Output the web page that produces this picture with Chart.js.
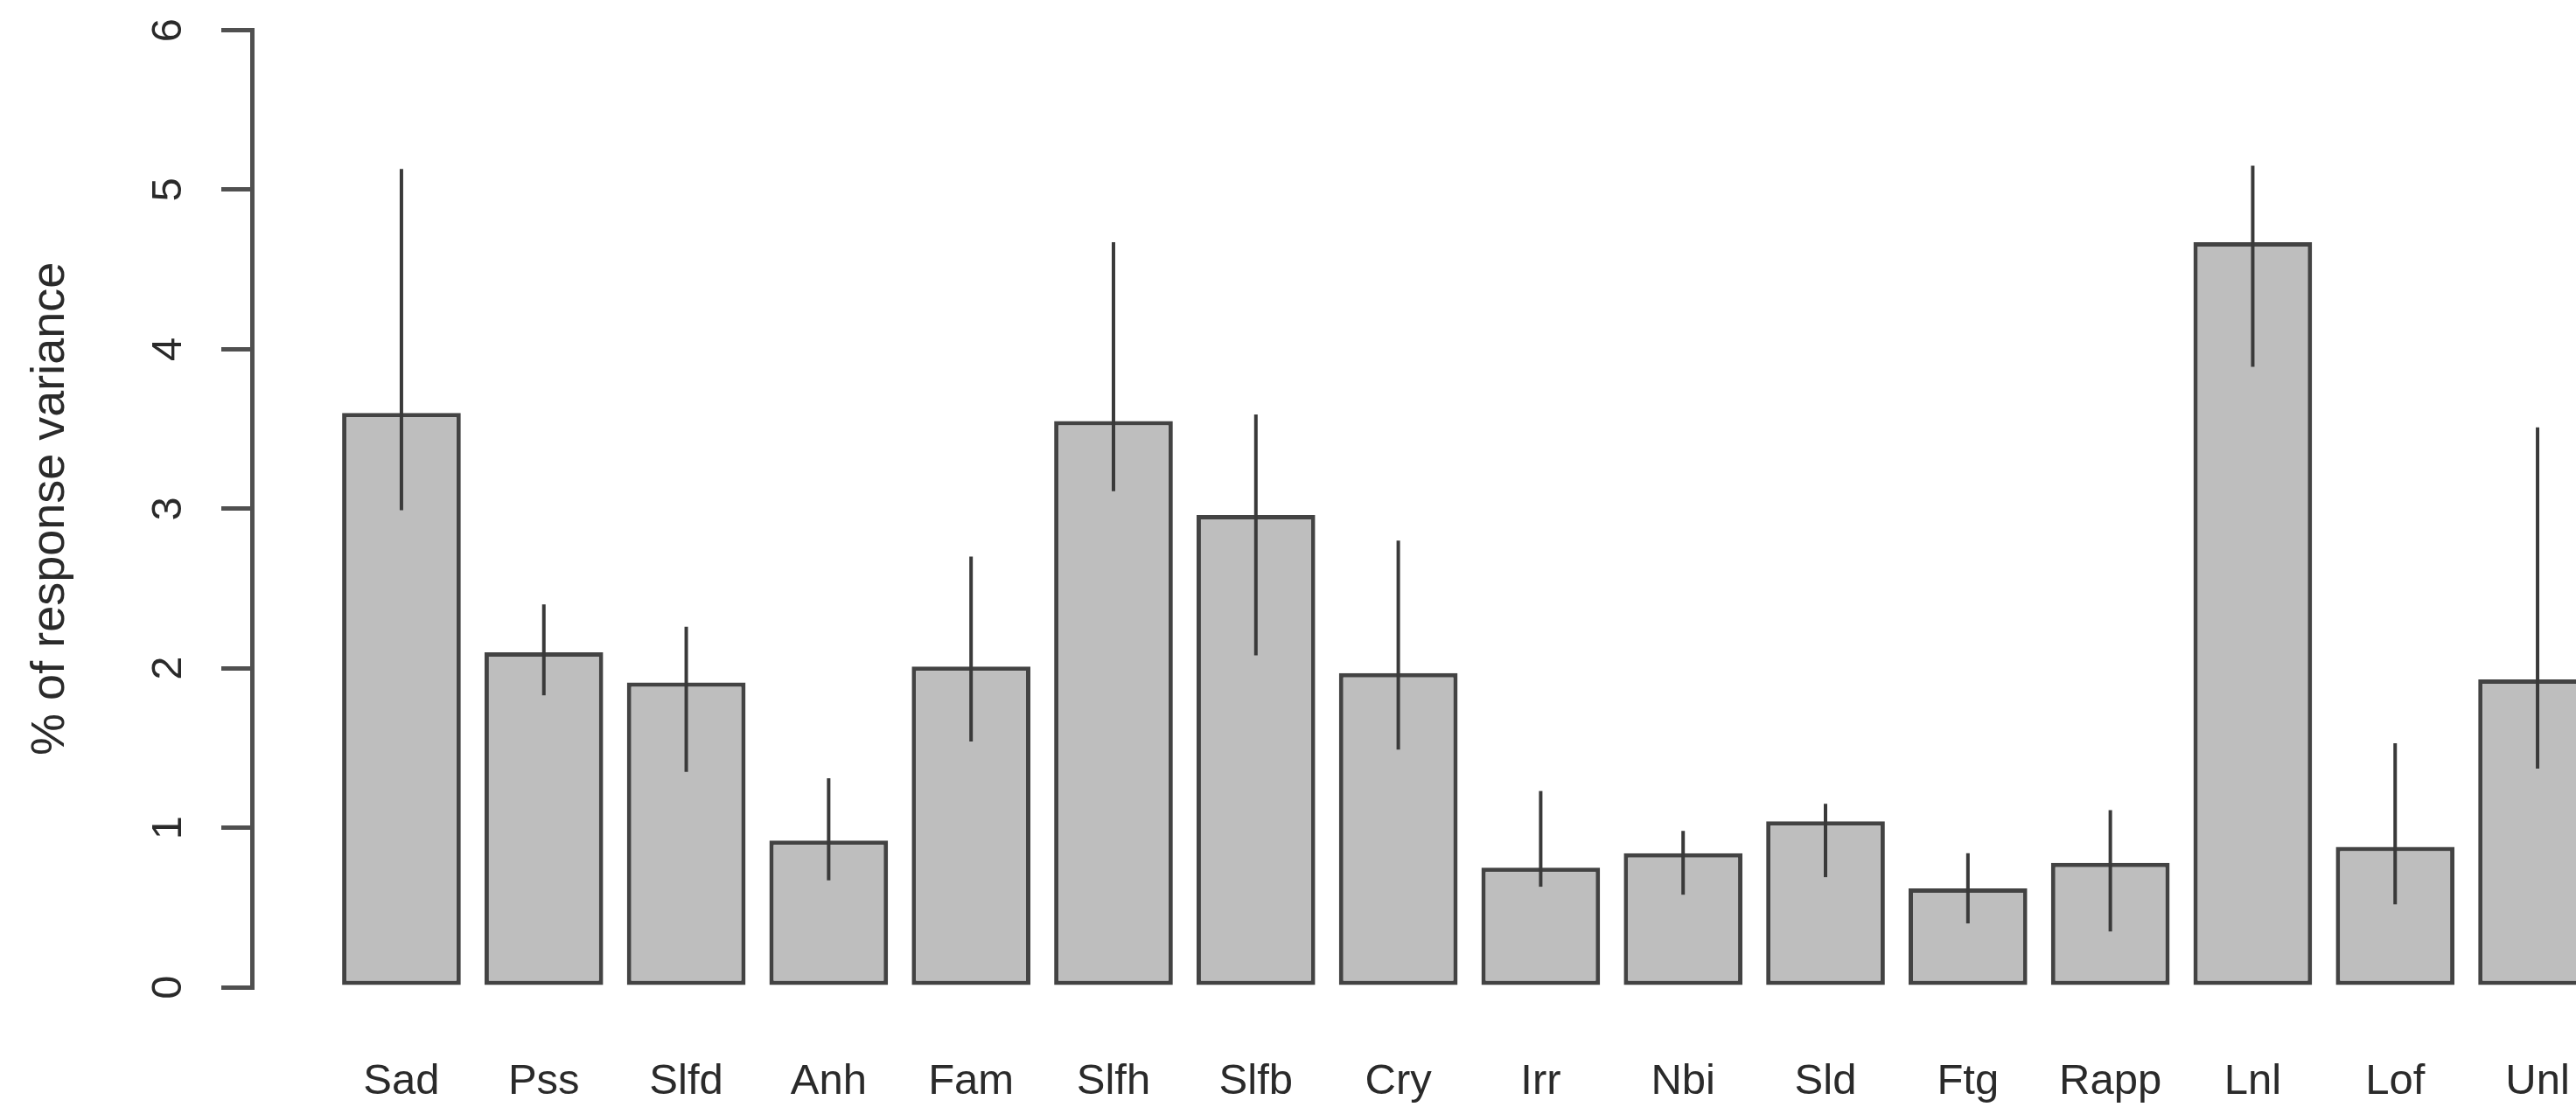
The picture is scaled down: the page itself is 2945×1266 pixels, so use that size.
<!DOCTYPE html>
<html>
<head>
<meta charset="utf-8">
<title>% of response variance</title>
<script src="https://cdn.jsdelivr.net/npm/chart.js@4.4.1/dist/chart.umd.min.js"></script>
<style>
  html, body { margin: 0; padding: 0; background: #ffffff; overflow: hidden; }
  #wrap { width: 3080px; height: 1266px; }
</style>
</head>
<body>
<div id="wrap"><canvas id="chart" width="3080" height="1266"></canvas></div>
<script>
// Item labels along the x axis
const categories = ['Sad', 'Pss', 'Slfd', 'Anh', 'Fam', 'Slfh', 'Slfb', 'Cry',
                    'Irr', 'Nbi', 'Sld', 'Ftg', 'Rapp', 'Lnl', 'Lof', 'Unl'];

// Percentage of response variance per item
const values  = [3.60, 2.10, 1.91, 0.92, 2.01, 3.55, 2.96, 1.97,
                 0.75, 0.84, 1.04, 0.62, 0.78, 4.67, 0.88, 1.93];

// Interval ends drawn as vertical whiskers
const errLow  = [2.99, 1.83, 1.35, 0.67, 1.54, 3.11, 2.08, 1.49,
                 0.63, 0.58, 0.69, 0.40, 0.35, 3.89, 0.52, 1.37];
const errHigh = [5.13, 2.40, 2.26, 1.31, 2.70, 4.67, 3.59, 2.80,
                 1.23, 0.98, 1.15, 0.84, 1.11, 5.15, 1.53, 3.51];

// Y axis tick values
const yTicks = [0, 1, 2, 3, 4, 5, 6];

// barplot-style layout: unit-wide bars separated by a 0.2 gap
const SPACE = 0.2;
const barX = categories.map((_, i) => SPACE + 0.5 + i * (1 + SPACE));
const span = categories.length * (1 + SPACE);
const xPad = 0.04 * (span - SPACE);
const xMin = SPACE - xPad;
const xMax = span + xPad;

const FAMILY = "'Liberation Sans', Arial, sans-serif";
const FONT = { family: FAMILY, size: 49 };
const TITLE_FONT = { family: FAMILY, size: 54 };
const TEXT = '#2a2a2a';
const INK = '#505050';

const whiskers = {
  id: 'whiskers',
  afterDatasetsDraw(chart) {
    const { ctx, scales: { x, y } } = chart;
    ctx.save();
    ctx.strokeStyle = '#3a3a3a';
    ctx.lineWidth = 4;
    ctx.lineCap = 'butt';
    barX.forEach((bx, i) => {
      const px = x.getPixelForValue(bx);
      ctx.beginPath();
      ctx.moveTo(px, y.getPixelForValue(errLow[i]));
      ctx.lineTo(px, y.getPixelForValue(errHigh[i]));
      ctx.stroke();
    });
    ctx.restore();
  }
};

new Chart(document.getElementById('chart'), {
  type: 'bar',
  data: {
    datasets: [{
      data: barX.map((bx, i) => ({ x: bx, y: values[i] })),
      backgroundColor: '#bebebe',
      borderColor: '#434343',
      borderWidth: 5,
      borderSkipped: false,
      barPercentage: 1 / (1 + SPACE),
      categoryPercentage: 1
    }]
  },
  options: {
    responsive: false,
    animation: false,
    devicePixelRatio: 1,
    layout: { padding: { top: 34.5, right: 8, bottom: 0, left: 0 } },
    plugins: { legend: { display: false }, tooltip: { enabled: false } },
    scales: {
      x: {
        type: 'linear',
        min: xMin,
        max: xMax,
        offset: false,
        afterBuildTicks: s => { s.ticks = barX.map(v => ({ value: v })); },
        afterFit: s => { s.height = 137; },
        grid: { display: false, drawTicks: false },
        border: { display: false },
        ticks: {
          autoSkip: false,
          minRotation: 0,
          maxRotation: 0,
          padding: 79,
          font: FONT,
          color: TEXT,
          callback: (v, i) => categories[i]
        }
      },
      y: {
        min: 0,
        max: 6,
        afterBuildTicks: s => { s.ticks = yTicks.map(v => ({ value: v })); },
        afterFit: s => {
          s.width = 288;
          s.paddingTop = 0;
          s.paddingBottom = 0;
        },
        border: { display: true, color: INK, width: 5 },
        grid: {
          display: true,
          drawOnChartArea: false,
          drawTicks: true,
          tickLength: 35,
          tickWidth: 5,
          tickColor: INK,
          color: INK,
          lineWidth: 5
        },
        ticks: {
          minRotation: 90,
          maxRotation: 90,
          crossAlign: 'center',
          padding: 46,
          font: FONT,
          color: TEXT,
          callback: v => String(v)
        },
        title: {
          display: true,
          text: '% of response variance',
          font: TITLE_FONT,
          color: TEXT,
          padding: { top: 26, bottom: 0 }
        }
      }
    }
  },
  plugins: [whiskers]
});
</script>
</body>
</html>
